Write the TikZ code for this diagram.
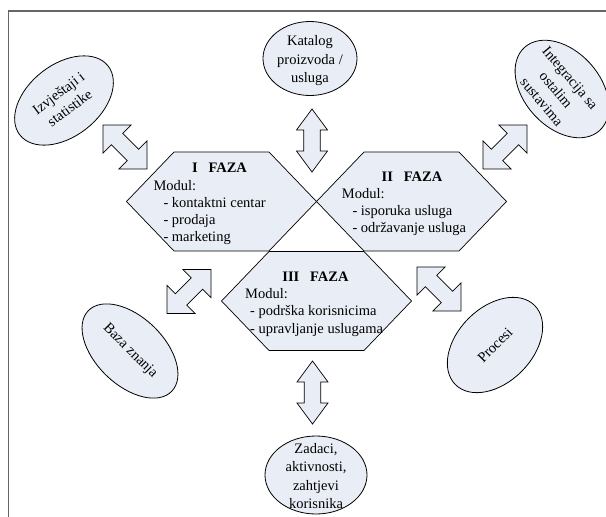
\documentclass[tikz,border=0pt]{standalone}
\usepackage{fontspec}
\setmainfont{Liberation Serif}
\usetikzlibrary{shapes.geometric}
\definecolor{lightfill}{HTML}{E9EEF6}
\definecolor{framegray}{HTML}{666666}
\tikzset{
  ell/.style={ellipse, draw=black, fill=lightfill, line width=0.8pt, inner sep=0pt},
  etxt/.style={align=center, font=\fontsize{14.5}{18.5}\selectfont, inner sep=0pt},
  htxt/.style={anchor=base west, font=\fontsize{14.5}{17}\selectfont, inner sep=0pt},
  httl/.style={anchor=base, font=\fontsize{14.5}{17}\selectfont\bfseries, inner sep=0pt},
  hexshape/.style={fill=lightfill, draw=black, line width=0.7pt, line join=miter},
  blockarrow/.style={fill=lightfill, draw=black, line width=0.7pt, line join=miter},
  hexa/.pic={\path[hexshape] (-95,0) -- (-47.5,-49.5) -- (47.5,-49.5) -- (95,0) -- (47.5,49.5) -- (-47.5,49.5) -- cycle;},
  diagarrow/.pic={\path[blockarrow] (31pt,0pt) -- (11.2pt,19.8pt) -- (11.2pt,8pt) -- (-11.2pt,8pt) -- (-11.2pt,19.8pt) -- (-31pt,0pt) -- (-11.2pt,-19.8pt) -- (-11.2pt,-8pt) -- (11.2pt,-8pt) -- (11.2pt,-19.8pt) -- cycle;},
  vertarrow/.pic={\path[blockarrow] (31.5pt,0pt) -- (10.5pt,15.5pt) -- (10.5pt,8.3pt) -- (-10.5pt,8.3pt) -- (-10.5pt,15.5pt) -- (-31.5pt,0pt) -- (-10.5pt,-15.5pt) -- (-10.5pt,-8.3pt) -- (10.5pt,-8.3pt) -- (10.5pt,-15.5pt) -- cycle;}
}
\begin{document}
\begin{tikzpicture}[x=1pt,y=-1pt]
\useasboundingbox (0,0) rectangle (606,517);
% frame
\draw[framegray, line width=1.5pt] (8.5,517) -- (8.5,11) -- (606,11);

% hexagons
\pic (hI) at (221.5,201.5) {hexa};
\pic (hII) at (411.5,201.5) {hexa};
\pic (hIII) at (316.5,301) {hexa};

% hexagon texts
\node[httl] (t1) at (219.5,172.5) {I~~~FAZA};
\node[htxt] (m1) at (153.3,190) {Modul:};
\node[htxt] (m1a) at (163.3,207) {- kontaktni centar};
\node[htxt] (m1b) at (163.3,224) {- prodaja};
\node[htxt] (m1c) at (163.3,241) {- marketing};

\node[httl] (t2) at (412,181) {II~~~FAZA};
\node[htxt] (m2) at (341.7,198) {Modul:};
\node[htxt] (m2a) at (352.3,215) {- isporuka usluga};
\node[htxt] (m2b) at (352.3,232) {- održavanje usluga};

\node[httl] (t3) at (315.5,281.5) {III~~~FAZA};
\node[htxt] (m3) at (245,298) {Modul:};
\node[htxt] (m3a) at (250,315.5) {- podrška korisnicima};
\node[htxt] (m3b) at (250,333) {- upravljanje uslugama};

% ellipses
\node[ell, minimum width=112pt, minimum height=72pt, rotate=38] (izv) at (64,100.5) {};
\node[etxt, rotate=37] (izvt) at (izv.center) {Izvještaji i\\statistike};

\node[ell, minimum width=94pt, minimum height=74pt] (kat) at (310,58.5) {};
\node[etxt] (katt) at (310,61) {Katalog\\proizvoda /\\usluga};

\node[ell, minimum width=112pt, minimum height=76pt, rotate=-48] (integ) at (562,89) {};
\node[etxt, rotate=-50] (integt) at (556,90) {Integracija sa\\ostalim\\sustavima};

\node[ell, minimum width=116pt, minimum height=68pt, rotate=-44] (baza) at (130,351) {};
\node[etxt, rotate=-45] (bazat) at (baza.center) {Baza znanja};

\node[ell, minimum width=112pt, minimum height=75pt, rotate=45] (proc) at (495,345) {};
\node[etxt, rotate=45] (proct) at (proc.center) {Procesi};

\node[ell, minimum width=102pt, minimum height=78pt] (zad) at (316,475) {};
\node[etxt] (zadt) at (316,476) {Zadaci,\\aktivnosti,\\zahtjevi\\korisnika};

% block arrows
\pic[rotate=-45] (a1) at (125,147) {diagarrow};
\pic[rotate=90] (a2) at (312,140.5) {vertarrow};
\pic[rotate=45] (a3) at (505,147) {diagarrow};
\pic[rotate=45] (a4) at (189,291.5) {diagarrow};
\pic[rotate=-45] (a5) at (439,289) {diagarrow};
\pic[rotate=90] (a6) at (312.5,392.5) {vertarrow};
\end{tikzpicture}
\end{document}
